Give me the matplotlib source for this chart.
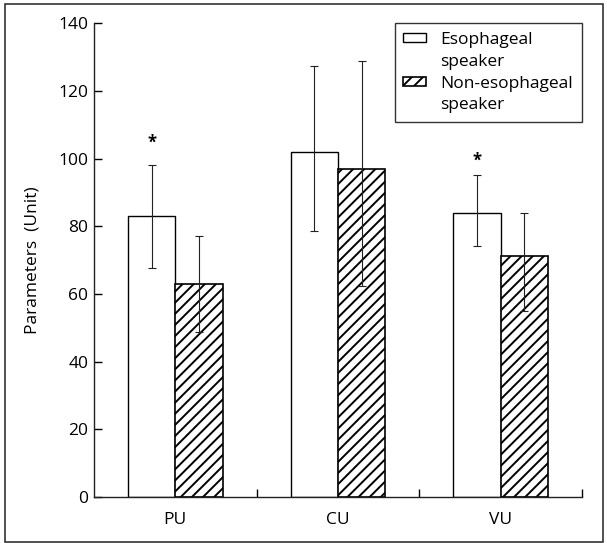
import matplotlib
matplotlib.use("Agg")
import matplotlib.pyplot as plt
from matplotlib.patches import Rectangle
import numpy as np

plt.rcParams['font.family'] = ['Open Sans', 'DejaVu Sans']
plt.rcParams['hatch.linewidth'] = 1.4

categories = ["PU", "CU", "VU"]
eso_vals = [83.2, 101.9, 84.1]
eso_err_lo = [15.4, 23.4, 10.0]
eso_err_hi = [14.8, 25.6, 11.0]
non_vals = [63.1, 96.9, 71.1]
non_err_lo = [14.2, 34.4, 16.1]
non_err_hi = [14.2, 32.1, 13.0]
star_y = [104.6, None, 99.3]
legend_lines = [["Esophageal", "speaker"], ["Non-esophageal", "speaker"]]
yticks = [0, 20, 40, 60, 80, 100, 120, 140]

W, H, DPI = 607, 543, 100
fig = plt.figure(figsize=(W / DPI, H / DPI), dpi=DPI)
ax = fig.add_axes([94 / W, 1 - 497 / H, (582 - 94) / W, (497 - 23.4) / H])

x = np.arange(len(categories))
bw = 0.29
b1 = ax.bar(x - bw / 2, eso_vals, bw, color='white', edgecolor='black', linewidth=1.0, zorder=2)
b2 = ax.bar(x + bw / 2, non_vals, bw, color='white', edgecolor='black', linewidth=1.2,
            hatch='///', zorder=2)
ax.errorbar(x - bw / 2, eso_vals, yerr=[eso_err_lo, eso_err_hi], fmt='none', ecolor='#222222',
            elinewidth=0.8, capsize=3, capthick=0.8, zorder=3)
ax.errorbar(x + bw / 2, non_vals, yerr=[non_err_lo, non_err_hi], fmt='none', ecolor='#222222',
            elinewidth=0.8, capsize=3, capthick=0.8, zorder=3)

for xi, sy in zip(x, star_y):
    if sy is not None:
        ax.text(xi - bw / 2, sy, '*', ha='center', va='center', fontsize=12, fontweight='bold')

ax.set_xlim(-0.5, 2.5)
ax.set_ylim(0, 140)
ax.set_yticks(yticks)
ax.set_yticklabels([str(t) for t in yticks], fontsize=12.5)
ax.set_xticks(x)
ax.set_xticklabels(categories, fontsize=12.5)
ax.tick_params(axis='x', which='major', length=0, pad=11)
ax.set_xticks([0.5, 1.5, 2.5], minor=True)
ax.tick_params(axis='x', which='minor', direction='in', length=6, width=1.0)
ax.tick_params(axis='y', direction='in', length=6, width=1.0, pad=4)
for s in ['top', 'right']:
    ax.spines[s].set_visible(False)
for s in ['left', 'bottom']:
    ax.spines[s].set_linewidth(1.0)
    ax.spines[s].set_color('#222222')
ax.set_ylabel("Parameters  (Unit)", fontsize=12.5, labelpad=13)

blank = Rectangle((0, 0), 1, 1, fill=False, edgecolor='none', linewidth=0)
handles = [b1, blank, b2, blank]
labels = [legend_lines[0][0], legend_lines[0][1], legend_lines[1][0], legend_lines[1][1]]
leg = ax.legend(handles, labels, loc='upper right', bbox_to_anchor=(1.0, 1.0),
                borderaxespad=0, fontsize=12.5, frameon=True, fancybox=False,
                handlelength=1.3, handleheight=0.4, handletextpad=0.85,
                labelspacing=0.33, borderpad=0.5)
leg.get_frame().set_edgecolor('black')
leg.get_frame().set_linewidth(1.0)

fig.patches.append(Rectangle((5 / W, 1 / H), 598 / W, 538 / H, transform=fig.transFigure,
                             fill=False, edgecolor='#333333', linewidth=1.2))

fig.savefig("out.png", dpi=DPI)
